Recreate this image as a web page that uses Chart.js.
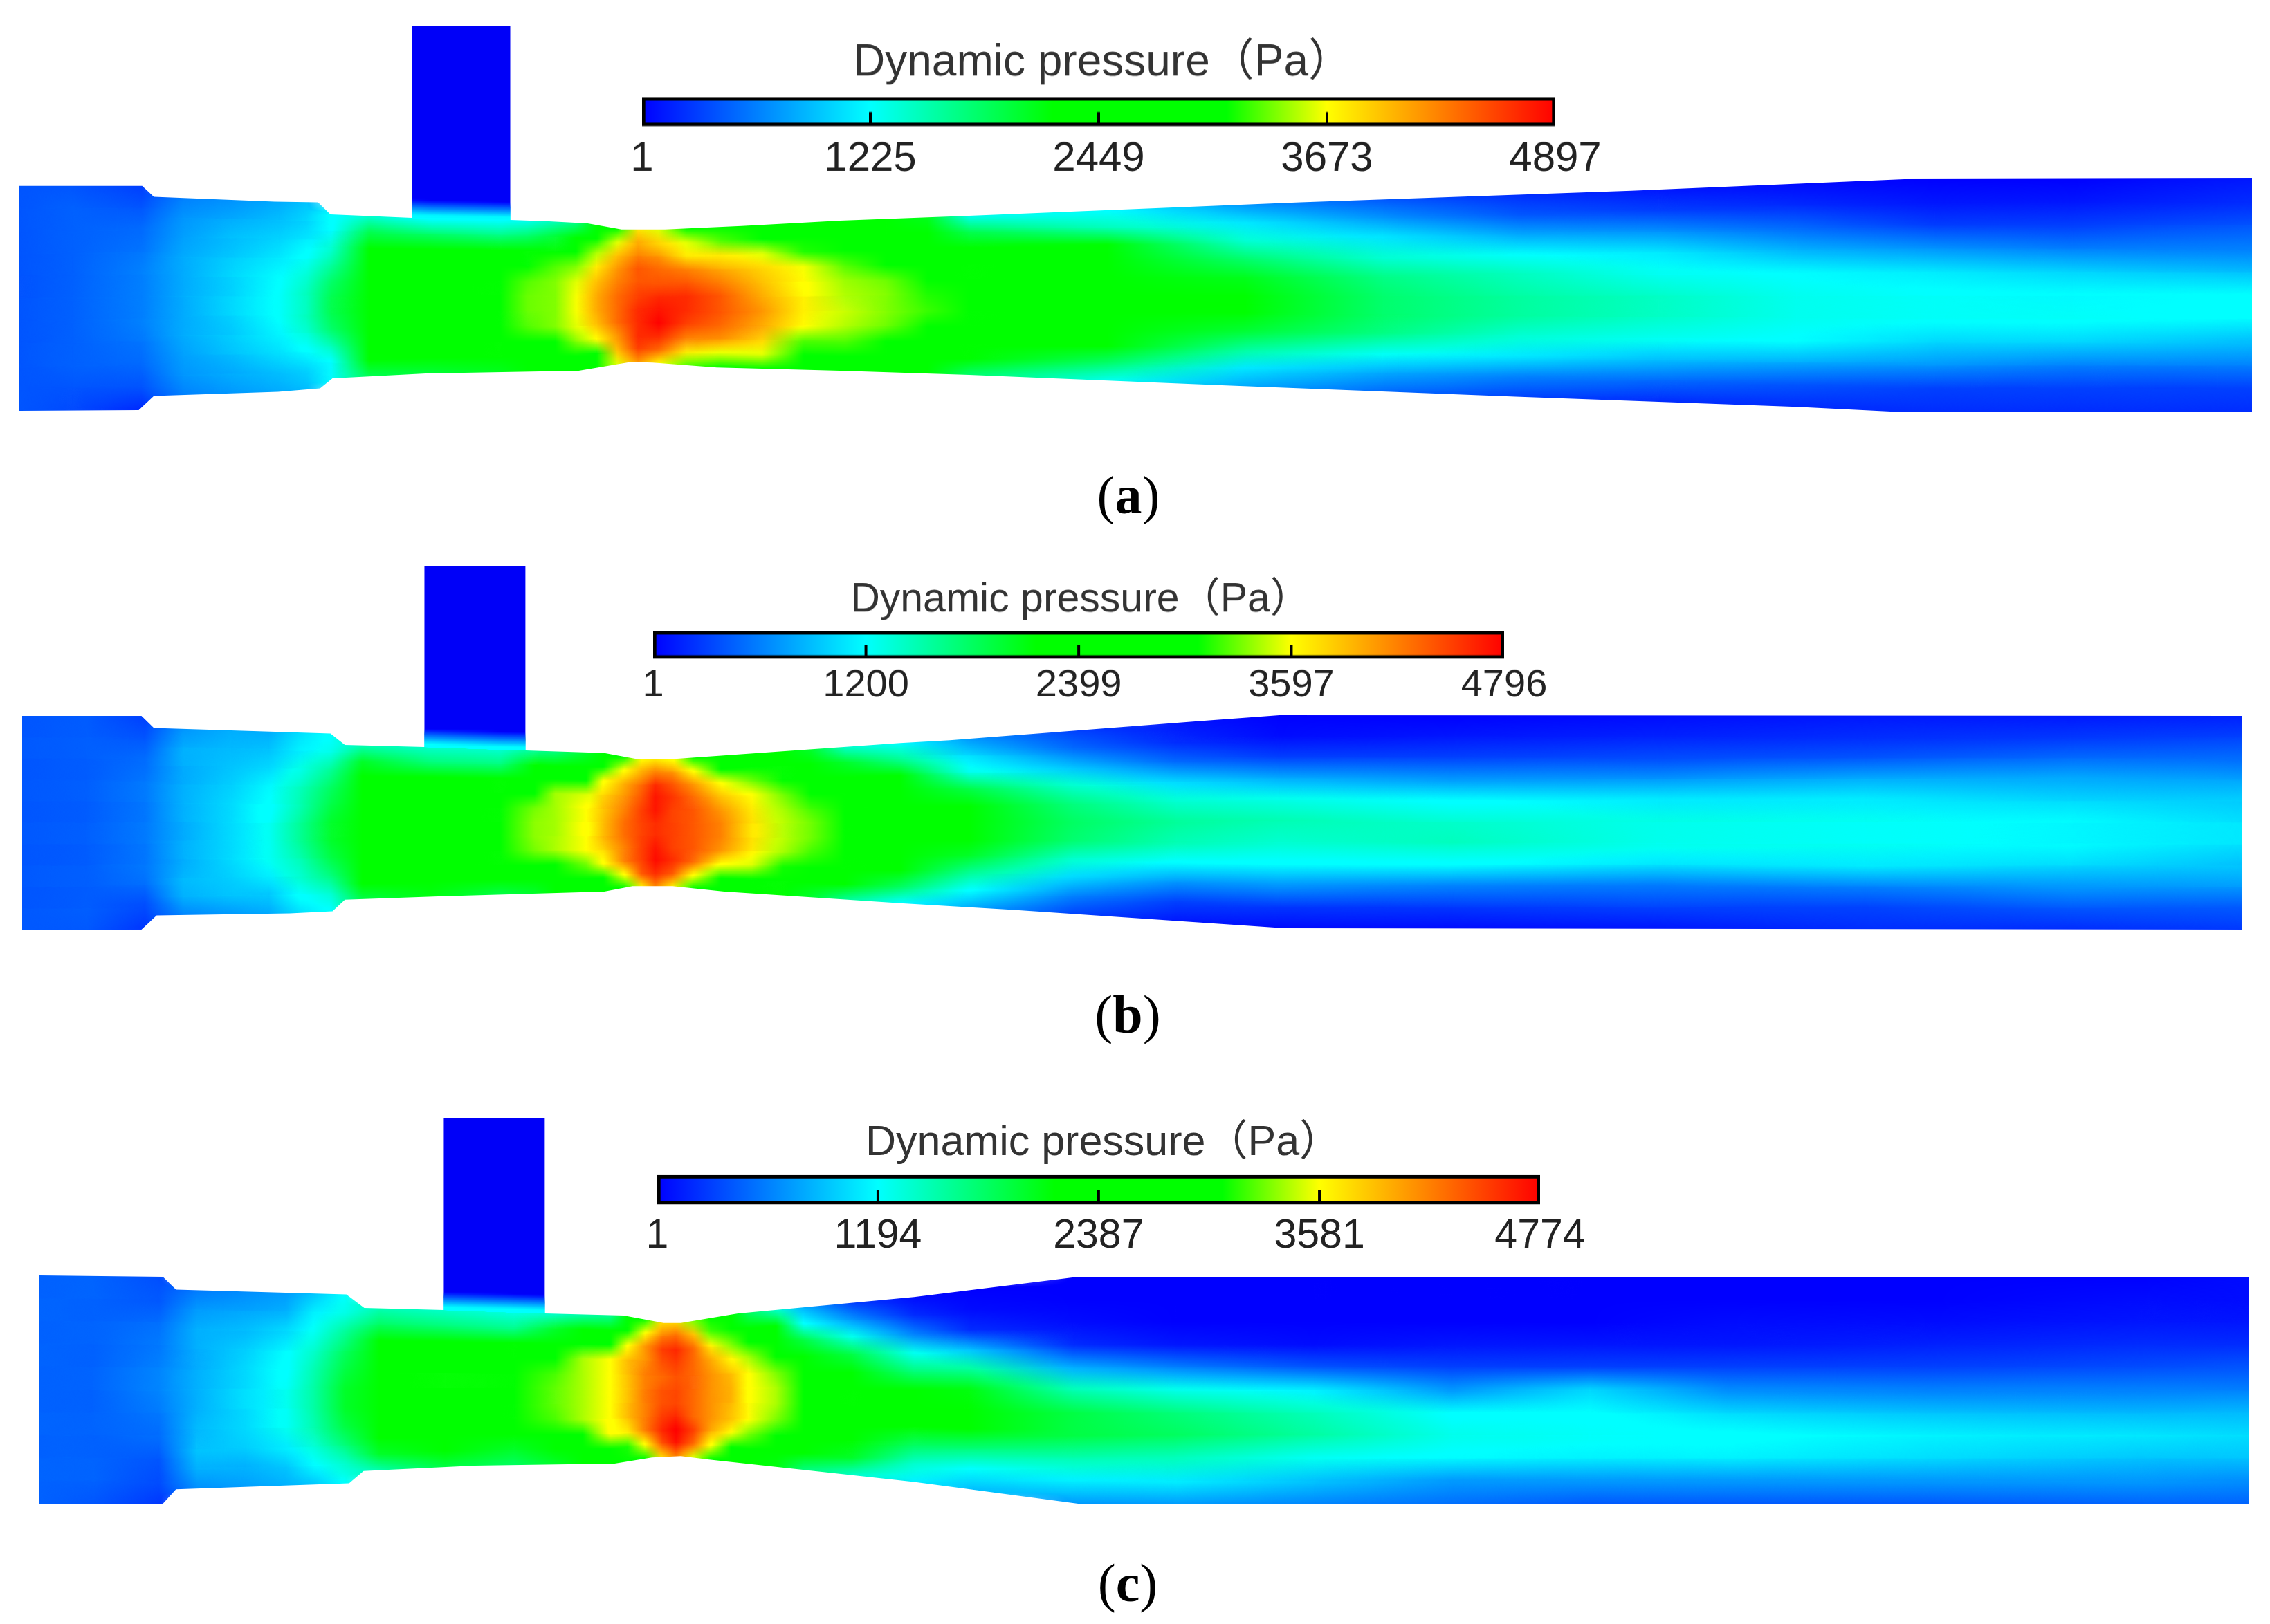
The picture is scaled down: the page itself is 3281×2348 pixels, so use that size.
<!DOCTYPE html>
<html>
<head>
<meta charset="utf-8">
<title>Dynamic pressure</title>
<script src="https://cdn.jsdelivr.net/npm/chart.js@4/dist/chart.umd.min.js"></script>
<style>
  html, body { margin: 0; background: #fff; }
  #page { position: relative; width: 3281px; height: 2348px; overflow: hidden; background: #fff; }
  canvas { position: absolute; }
  .cap { position: absolute; width: 200px; text-align: center; font: 78px "Liberation Serif", serif; color: #000; line-height: 80px; }
</style>
</head>
<body>
<div id="page"></div>
<script>
// colour scale, position 0..1 on the bar
const colorStops = [
  [0, [0, 0, 255]],
  [0.25, [0, 255, 255]],
  [0.45, [0, 255, 0]],
  [0.64, [0, 255, 0]],
  [0.75, [255, 255, 0]],
  [1, [255, 0, 0]]
];

const colorbarTitle = "Dynamic pressure（Pa）";
const ticksA = [1, 1225, 2449, 3673, 4897];
const ticksB = [1, 1200, 2399, 3597, 4796];
const ticksC = [1, 1194, 2387, 3581, 4774];
const captions = ["a", "b", "c"];

// duct walls, [position, height]
const topWallA = [[23,268],[201,268],[218,284],[393,291],[456,292],[474,310],[592,315],[735,318],[791,320],[847,323],[896,332],[959,332],[1070,327],[1213,319],[1400,312],[1880,292],[2360,275],[2756,258],[3260,257]];
const bottomWallA = [[23,599],[196,598],[218,577],[398,571],[459,566],[477,551],[612,544],[834,540],[892,530],[910,527],[941,528],[1034,535],[1213,540],[1400,546],[1760,561],[2192,578],[2600,593],[2756,601],[3260,601]];
const pipeA = [592, 735, 33];
const topWallB = [[27,1034],[200,1034],[218,1052],[474,1060],[495,1077],[610,1080],[757,1085],[871,1089],[920,1098],[966,1098],[1300,1074],[1372,1070],[1731,1042],[1850,1033],[3245,1034]];
const bottomWallB = [[27,1349],[200,1349],[222,1328],[415,1325],[477,1322],[495,1305],[630,1300],[871,1293],[912,1285],[970,1285],[1045,1293],[1300,1310],[1465,1320],[1858,1347],[3245,1349]];
const pipeB = [610, 757, 814];
const topWallC = [[52,1843],[231,1845],[250,1864],[497,1871],[523,1891],[638,1894],[785,1899],[899,1902],[957,1913],[982,1913],[1065,1899],[1320,1875],[1558,1845],[3256,1846]];
const bottomWallC = [[52,2179],[231,2179],[250,2158],[501,2149],[522,2131],[683,2123],[886,2120],[940,2111],[982,2109],[1023,2114],[1320,2147],[1558,2179],[3256,2179]];
const pipeC = [638, 785, 1611];

// stations along the duct and, at each one, hPa from the top wall to the bottom wall
const stationsA = [23,100,200,260,330,400,440,475,530,620,720,760,800,830,860,890,920,950,990,1040,1100,1160,1220,1280,1340,1400,1600,1800,2000,2200,2400,2600,2800,3000,3260];
const fieldA = [
  [4,4,4,4,4,4,4,4,4,4,4],
  [4,4.5,4.5,4.5,4.5,4.5,4.5,4.5,4.5,4,3.5],
  [3,4,5,5.5,6,6,6,5.5,5,4,2],
  [6,7,7.5,8,8,8,8,8,7.5,7,6],
  [7,8,9,9.5,10,10,10,9.5,9,8,7],
  [8,9,10,11,12,12.5,12.5,11.5,10.5,9,8],
  [9,10,11,12.5,14,15,15,14,12,10,9],
  [12,12,14,16,18,19,19,18,15,12,12],
  [14,19,23,24,24,24,24,24,24,22,19],
  [12,18,23,25,25,25,25,25,25,23,20],
  [12,17,23,26,26,27,27,26,26,24,21],
  [13,18,25,30,33,33.5,33.5,33,30,25,22],
  [15,20,30,33,34,34,34,34,30,26,23],
  [17,23,29,34,36,36.5,36.5,36,34,29,24],
  [22,26,35,38,40,41,41,40,37,30,25],
  [30,36,40,42,43,44,44,44,42,40,36],
  [38,41,43,45,45,46,47,47,47,46,42],
  [36,39,42,44,45,47,48,49,47,44,37],
  [31,36,38,43,45,47,47,46,43,38,33],
  [27,33,38,41,43,45,45,44,42,36,29],
  [25,28,36,39,40,41,42,41,39,36,27],
  [25,26,32,36.5,37,37.5,37.5,37,33,27,25],
  [24,25,27,33,34.5,35,35.5,35,33,27,25],
  [23,24,25,31,33.5,34,34,33.5,29,25,24],
  [21,24,25,25,30,32,32.5,31,25,25,23],
  [13,19,24,25,25,25,25,25,25,24,18],
  [12,15,22,24,25,25,25,25,24,18,13],
  [7,11,14,18,21,22,22,20,16,11,8],
  [4,7,11,14,17,18,18,17,13,8,5],
  [2,4,8,12.5,15,16,16,14,11,6,3],
  [1,3,7,11,13,14.5,14.5,13,9,5,2],
  [0.5,2,5,8.5,12,13,13,12,8,4,2],
  [0,1,3,7,11,12.5,12.5,10,7,3,2],
  [0,1,3,6,10,12,12.5,10,6,3,2],
  [1,2,4,6,9,12,12,9,6,3,2]
];
const stationsB = [27,120,205,260,330,385,430,475,520,620,720,770,800,845,870,900,925,945,970,1000,1040,1085,1130,1170,1220,1300,1400,1550,1700,1850,2100,2400,2700,3000,3245];
const fieldB = [
  [4,4,4,4,4,4,4,4,4,4,4],
  [4.3,4.3,4.3,4.3,4.3,4.3,4.3,4.3,4.3,4.3,4],
  [3,4,5,5.5,5.5,5.5,5.5,5.5,5,3.5,2.5],
  [7,8,8,8,8,8,8,8,8.5,8,6],
  [8,8.5,9,9.5,10,10,10,10,9.5,9,7],
  [8,9,10,11.5,12,12.5,12.5,12.5,11,9,7.5],
  [10,11,13,14.5,15,16,16,15,14,12,10],
  [12,13,16,18,19,20,20,19,17,14,12],
  [15,20,24,25,25,25,25,25,25,22,19],
  [14,17,23,25,25,26,26,25,25,23,21],
  [14,17,23,26,26,26,26,26,25,22,19],
  [16,22,25,30,33,33.5,33.5,33,29,25,20],
  [17,23,30,34,34,34,34,34,28,25,22],
  [20,25,27,35,36,36,36,36,33,26,24],
  [24,30,36,38,39,39.5,39.5,38,36,30,25],
  [28,36,40,41,42,43,43,42,42,36,30],
  [36,40,43,44,45,45,45,45,45,44,37],
  [37,42,46,47,47,46,46,47,47.5,46,42],
  [36,41,44,45.5,45,45,45,45,46,44,37],
  [27,36,41,43,44,44,44,44,43,36,28],
  [25,30,36,39,41,42,42,41,36,30,25],
  [24,26,33,36,37,37.5,37.5,37,35,26,24],
  [22,25,28,33,34,34.5,34.5,34,31,25,23],
  [20,24,25,27,32,33,33,32,27,24,20],
  [14,20,25,25,25,25,25,25,25,22,16],
  [12,16,23,25,25,25,25,25,24,18,12],
  [7,10,13,19,22,23,23,20,16,12,8],
  [3,5,9,14,17,18,17.5,14,10,6,3],
  [1,2,5,10,14,16,15,12,7,3,1],
  [0,0.5,3,8,13,15,14,12,7,2.5,0.5],
  [0,1,3,7,12,14,14.5,12,6,2.5,0.5],
  [0.5,1.5,3.5,7,11,13,13,10.5,5.5,3,1],
  [1,2,4,8,11,12.5,12.5,11,6,3,2],
  [1,2.5,5,8,10,11.5,11.5,10,7,4,2],
  [1.5,3,5,7.5,9.5,10.5,10.5,9,7,4,2.5]
];
const stationsC = [52,130,225,280,350,410,450,495,545,640,740,800,840,880,905,930,955,975,1000,1025,1055,1080,1120,1160,1230,1320,1400,1550,1700,1900,2100,2300,2500,2800,3100,3256];
const fieldC = [
  [4.5,4.5,4.5,4.5,4.5,4.5,4.5,4.5,4.5,4.5,4.5],
  [4.5,4.5,4.5,4.5,4.5,4.5,4.5,4.5,4.5,4.5,4],
  [3.5,4,5,5.5,6,6,5.5,5,4,3.5,2.5],
  [5.5,7,8,8,8,8,8,8.5,9,8,6.5],
  [6.5,7.5,8.5,9.5,10,10,10,10,9.5,8,7],
  [7,8,10,11.5,12,12.5,12.5,12.5,11,9,8],
  [9,11,12.5,14,15,15.5,15.5,15,13.5,11.5,9],
  [12,13,16,18,19,20,20,19,17,14,12],
  [15,18,23,24,25,25,25,25,25,20,15],
  [14,17,24,26,26,26,26,26,25,22,19],
  [13,16,23,26,26,26,26,26,24,20,18],
  [14,20,26,30,32,32.5,32.5,32,27,23,20],
  [15,23,30,34,34,34,34,34,26,25,22],
  [16,25,30,36,36,36,36,36,36,28,24],
  [22,28,36,39,39,39,39,39,37,31,26],
  [30,36,41,41,42,42,42,42,42,36,30],
  [38,42,45,44,43,44,44,45,46,44,38],
  [38,43,46,45,44,44.5,44.5,46,49,47,42],
  [33,39,43,43,43,43,43,43,45,43,35],
  [27,32,37,40,41,41,41,41,40,36,28],
  [24,27,33,36.5,39,39.5,39.5,39,36,28,24],
  [18,24,26,34,36,36,36,36,33,25,23],
  [14,22,25,28,33,34,34,33,30,25,21],
  [8,12,19,25,25,26,25,25,25,23,17],
  [3,7,13,19,25,25,25,25,25,20,14],
  [0.5,2,6,12.5,17,23,25,25,18,14,11],
  [0,0.5,2,9,16,21,23,22,17,12,9],
  [0,0,0.5,2,8,15,19,19,15,11,7],
  [0,0,0,1,6,13,17,18,14.5,11,7],
  [0,0,0,0.5,4,11,14.5,15.5,12.5,9,6],
  [0,0,0,1,3,7,12,13,11.5,7,5],
  [0,0,0,1,3,10,12,12.5,11,7,4],
  [0,0,0.5,1,3,6.5,10,12,11,7,4],
  [0,0,0.5,1.5,3,6,9,11,10,7,4],
  [0,0.5,1,2,3.5,6,8.5,10.5,9,7,4.5],
  [0.5,0.5,1,2,4,6,8.5,10,9,6.5,4.5]
];

const page = document.getElementById("page");

function addCanvas(left, top, width, height) {
  const c = document.createElement("canvas");
  c.width = width;
  c.height = height;
  c.style.left = left + "px";
  c.style.top = top + "px";
  c.style.width = width + "px";
  c.style.height = height + "px";
  page.appendChild(c);
  return c;
}

function colorAt(f) {
  f = Math.max(0, Math.min(1, f));
  for (let i = 1; i < colorStops.length; i++) {
    const [f1, c1] = colorStops[i];
    const [f0, c0] = colorStops[i - 1];
    if (f <= f1) {
      const t = (f - f0) / (f1 - f0);
      return c0.map((v, k) => Math.round(v + (c1[k] - v) * t));
    }
  }
  return colorStops[colorStops.length - 1][1];
}

// wall height at a station
function wallAt(wall, x) {
  for (let i = 1; i < wall.length; i++) {
    if (x <= wall[i][0]) {
      const t = (x - wall[i - 1][0]) / (wall[i][0] - wall[i - 1][0]);
      return wall[i - 1][1] + (wall[i][1] - wall[i - 1][1]) * t;
    }
  }
  return wall[wall.length - 1][1];
}

// tent shaped mark, drawn with "lighter" the neighbours add up to a smooth field
function tentMark(dl, dr, dy, rgb, isTop, isBottom) {
  const extra = 26;
  const reach = isTop || isBottom ? Math.max(dy, extra) : dy;
  const w = 2 * Math.ceil(Math.max(dl, dr));
  const h = 2 * Math.ceil(reach);
  const c = document.createElement("canvas");
  c.width = w;
  c.height = h;
  const g = c.getContext("2d");
  const img = g.createImageData(w, h);
  for (let j = 0; j < h; j++) {
    const py = j + 0.5 - h / 2;
    let ay;
    if ((py < 0 && isTop) || (py > 0 && isBottom)) {
      // runs on past the wall, the mask cuts it off
      const d = Math.abs(py);
      ay = d < 4 ? 1 : 1 - (d - 4) / (extra - 4);
    } else {
      ay = 1 - Math.abs(py) / dy;
    }
    if (ay <= 0) continue;
    for (let i = 0; i < w; i++) {
      const px = i + 0.5 - w / 2;
      const ax = px < 0 ? 1 + px / dl : 1 - px / dr;
      if (ax <= 0) continue;
      const o = (j * w + i) * 4;
      img.data[o] = rgb[0];
      img.data[o + 1] = rgb[1];
      img.data[o + 2] = rgb[2];
      img.data[o + 3] = Math.round(255 * ax * ay);
    }
  }
  g.putImageData(img, 0, 0);
  return c;
}

// the field dataset is added up instead of painted over
const addUpPlugin = {
  id: "addUp",
  beforeDatasetDraw(chart, args) {
    if (args.meta.type === "scatter") chart.ctx.globalCompositeOperation = "lighter";
  },
  afterDatasetDraw(chart) {
    chart.ctx.globalCompositeOperation = "source-over";
  }
};

function drawDuct(stations, field, topWall, bottomWall, pipe, maxPa) {
  const [pipeLeft, pipeRight, pipeTop] = pipe;
  const left = stations[0];
  const right = stations[stations.length - 1];
  const bottom = Math.max(...bottomWall.map(p => p[1]));

  const cells = [];
  const marks = [];
  stations.forEach((x, i) => {
    const dr = i < stations.length - 1 ? stations[i + 1] - x : x - stations[i - 1];
    const dl = i > 0 ? x - stations[i - 1] : dr;
    const y0 = wallAt(topWall, x);
    const y1 = wallAt(bottomWall, x);
    const rows = field[i].length - 1;
    const dy = (y1 - y0) / rows;
    field[i].forEach((v, r) => {
      cells.push({ x: x, y: Math.round(y0 + dy * r) });
      marks.push(tentMark(dl, dr, dy, colorAt(v * 100 / maxPa), r === 0, r === rows));
    });
  });

  // white outside the walls, with the branch pipe left open
  const topMask = [];
  topWall.forEach(p => {
    if (p[0] <= pipeLeft) topMask.push({ x: p[0], y: p[1] });
  });
  topMask.push({ x: pipeLeft, y: pipeTop }, { x: pipeRight, y: pipeTop });
  topWall.forEach(p => {
    if (p[0] >= pipeRight) topMask.push({ x: p[0], y: p[1] });
  });
  const bottomMask = bottomWall.map(p => ({ x: p[0], y: p[1] }));

  const canvas = addCanvas(left, pipeTop, right - left, bottom - pipeTop);
  return new Chart(canvas, {
    type: "scatter",
    data: {
      datasets: [
        {
          type: "line",
          data: [{ x: pipeLeft, y: wallAt(topWall, pipeLeft) }, { x: pipeRight, y: wallAt(topWall, pipeRight) }],
          fill: "end",
          backgroundColor: "#0000f8",
          borderWidth: 0,
          pointRadius: 0,
          order: 3
        },
        {
          data: cells,
          pointStyle: ctx => marks[ctx.dataIndex],
          pointRadius: 2,
          order: 2
        },
        {
          type: "line",
          data: topMask,
          fill: "end",
          backgroundColor: "#ffffff",
          borderWidth: 0,
          pointRadius: 0,
          tension: 0,
          order: 1
        },
        {
          type: "line",
          data: bottomMask,
          fill: "start",
          backgroundColor: "#ffffff",
          borderWidth: 0,
          pointRadius: 0,
          tension: 0,
          order: 1
        }
      ]
    },
    plugins: [addUpPlugin],
    options: {
      responsive: false,
      animation: false,
      devicePixelRatio: 1,
      events: [],
      layout: { padding: 0 },
      plugins: { legend: { display: false }, title: { display: false }, tooltip: { enabled: false } },
      scales: {
        x: { type: "linear", display: false, min: left, max: right },
        y: { type: "linear", display: false, min: pipeTop, max: bottom, reverse: true }
      }
    }
  });
}

function drawColorbar(ticks, box) {
  const maxPa = ticks[ticks.length - 1];
  const padRight = 80;
  const padLeft = padRight + box.shift;
  const titleH = box.titleSize * 1.2;
  const barTop = box.barTop;
  const barH = box.barBottom - box.barTop;
  const areaH = barH + 8;
  const axisH = 74;
  const top = barTop - titleH - box.titleGap;
  const canvas = addCanvas(box.barLeft - padLeft, top, box.barRight - box.barLeft + padLeft + padRight, titleH + box.titleGap + areaH + axisH);
  return new Chart(canvas, {
    type: "bar",
    data: {
      datasets: [
        {
          data: [{ x: [ticks[0], maxPa], y: barTop + barH / 2 }],
          barThickness: barH,
          borderColor: "#000",
          borderWidth: 5,
          borderSkipped: false,
          order: 2,
          backgroundColor: ctx => {
            const s = ctx.chart.scales.x;
            if (!s || !Number.isFinite(s.left) || !Number.isFinite(s.right)) return "#00f";
            const g = ctx.chart.ctx.createLinearGradient(s.left, 0, s.right, 0);
            colorStops.forEach(st => g.addColorStop(st[0], "rgb(" + st[1].join(",") + ")"));
            return g;
          }
        },
        {
          type: "scatter",
          indexAxis: "x",
          data: ticks.slice(1, -1).map(v => ({ x: v, y: box.barBottom - 1 })),
          pointStyle: "line",
          rotation: 90,
          pointRadius: 9,
          borderColor: "#000",
          borderWidth: 4,
          order: 1
        }
      ]
    },
    options: {
      indexAxis: "y",
      responsive: false,
      animation: false,
      devicePixelRatio: 1,
      events: [],
      layout: { padding: 0 },
      plugins: {
        legend: { display: false },
        tooltip: { enabled: false },
        title: {
          display: true,
          text: colorbarTitle,
          color: "#333",
          font: { family: '"Liberation Sans", "Noto Sans CJK SC", sans-serif', size: box.titleSize, weight: "normal" },
          padding: { top: 0, bottom: box.titleGap }
        }
      },
      scales: {
        y: { type: "linear", display: false, min: barTop, max: barTop + areaH, reverse: true },
        x: {
          type: "linear",
          min: ticks[0],
          max: maxPa,
          grid: { display: false },
          border: { display: false },
          afterBuildTicks: axis => { axis.ticks = ticks.map(v => ({ value: v })); },
          // side room goes through the axis so the title stays centred on the canvas
          afterFit: axis => {
            axis.height = axisH;
            axis.paddingLeft = padLeft;
            axis.paddingRight = padRight;
          },
          ticks: {
            callback: v => String(v),
            autoSkip: false,
            maxRotation: 0,
            padding: box.labelGap,
            color: "#222",
            font: { family: '"Liberation Sans", sans-serif', size: box.labelSize }
          }
        }
      }
    }
  });
}

function addCaption(letter, x, y) {
  const d = document.createElement("div");
  d.className = "cap";
  d.style.left = (x - 100) + "px";
  d.style.top = (y - 40) + "px";
  d.innerHTML = "(<b>" + letter + "</b>)";
  page.appendChild(d);
}

drawDuct(stationsA, fieldA, topWallA, bottomWallA, pipeA, ticksA[4]);
drawDuct(stationsB, fieldB, topWallB, bottomWallB, pipeB, ticksB[4]);
drawDuct(stationsC, fieldC, topWallC, bottomWallC, pipeC, ticksC[4]);

drawColorbar(ticksA, { barLeft: 928, barRight: 2248, barTop: 139, barBottom: 180, shift: -12, titleSize: 64, titleGap: 9, labelSize: 60, labelGap: -2 });
drawColorbar(ticksB, { barLeft: 944, barRight: 2174, barTop: 911, barBottom: 950, shift: -6, titleSize: 59, titleGap: 8, labelSize: 56, labelGap: -8 });
drawColorbar(ticksC, { barLeft: 950, barRight: 2226, barTop: 1697, barBottom: 1739, shift: -14, titleSize: 61, titleGap: 7, labelSize: 59, labelGap: -3 });

addCaption(captions[0], 1631, 716);
addCaption(captions[1], 1630, 1467);
addCaption(captions[2], 1630, 2289);
</script>
</body>
</html>
